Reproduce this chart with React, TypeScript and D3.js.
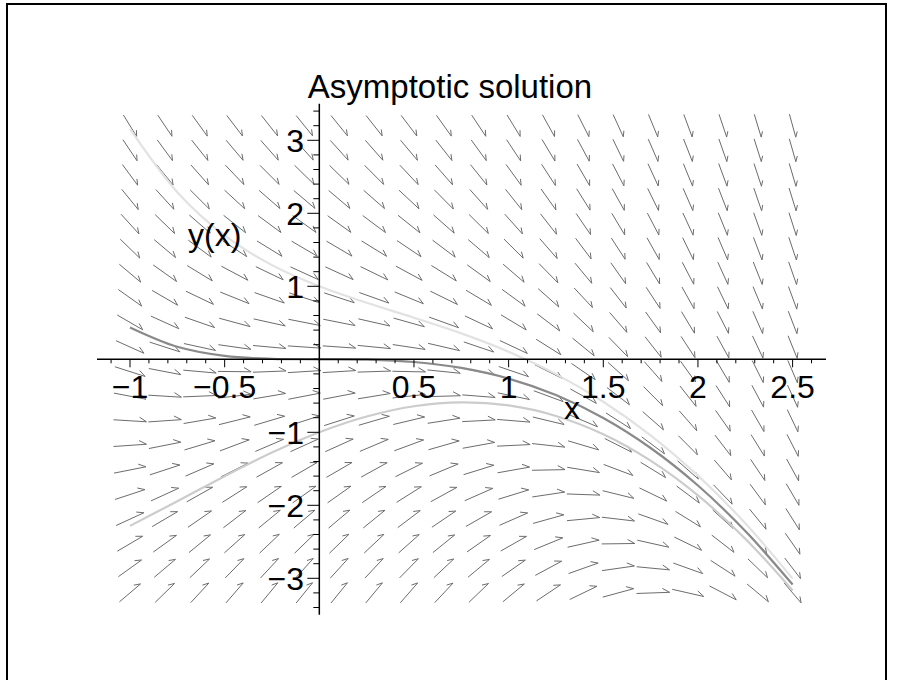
import React from "react";
import * as d3 from "d3";

// Direction field and solution curves of  y' = -y - x^2

const WIDTH = 905;
const HEIGHT = 680;

// axis ticks
const xMajorTicks = [-1, -0.5, 0.5, 1, 1.5, 2, 2.5];
const xTickLabels = ["\u22121", "\u22120.5", "0.5", "1", "1.5", "2", "2.5"];
const yMajorTicks = [-3, -2, -1, 1, 2, 3];
const yTickLabels = ["\u22123", "\u22122", "\u22121", "1", "2", "3"];

// solution curves sampled along x
const curveX = [-1, -0.75, -0.5, -0.25, 0, 0.25, 0.5, 0.75, 1, 1.25, 1.5, 1.75, 2, 2.25, 2.5];
const upperCurve = [3.155, 2.289, 1.696, 1.29, 1.0, 0.774, 0.57, 0.355, 0.104, -0.203, -0.581, -1.041, -1.594, -2.246, -3.004];
const middleCurve = [0.437, 0.172, 0.047, 0.006, 0, -0.005, -0.037, -0.118, -0.264, -0.49, -0.804, -1.215, -1.729, -2.352, -3.086];
const lowerCurve = [-2.282, -1.945, -1.601, -1.278, -1.0, -0.784, -0.643, -0.59, -0.632, -0.776, -1.027, -1.389, -1.865, -2.457, -3.168];

// the differential equation's right-hand side
const slope = (x: number, y: number) => -y - x * x;

// arrow grid
const fieldXRange = [-1, 2.5];
const fieldYRange = [-3.2, 3.2];
const fieldCols = 20;
const fieldRows = 20;

export default function App() {
  const x = d3.scaleLinear().domain([-1, 2.5]).range([130, 792.6]);
  const y = d3.scaleLinear().domain([-3.5, 3.5]).range([614.8, 103.8]);

  const xView = [x.invert(97), x.invert(826)];
  const yView = [-3.5, 3.5];

  const dxData = (fieldXRange[1] - fieldXRange[0]) / (fieldCols - 1);
  const dyData = (fieldYRange[1] - fieldYRange[0]) / (fieldRows - 1);
  const cellW = x(dxData) - x(0);
  const cellH = y(0) - y(dyData);

  const arrows: string[] = [];
  for (let i = 0; i < fieldCols; i++) {
    for (let j = 0; j < fieldRows; j++) {
      const xv = fieldXRange[0] + i * dxData;
      const yv = fieldYRange[0] + j * dyData;
      const u = 1 / dxData;
      const v = slope(xv, yv) / dyData;
      const n = Math.hypot(u, v);
      const L = 0.95;
      const vx = (u / n) * L * cellW;
      const vy = -(v / n) * L * cellH;
      const cx = x(xv);
      const cy = y(yv);
      const x0 = cx - vx / 2, y0 = cy - vy / 2;
      const x1 = cx + vx / 2, y1 = cy + vy / 2;
      const len = Math.hypot(vx, vy);
      const back = Math.atan2(-vy, -vx) + (30 * Math.PI) / 180;
      const bl = len * 0.25;
      const bx = x1 + Math.cos(back) * bl;
      const by = y1 + Math.sin(back) * bl;
      arrows.push(`M${x0},${y0}L${x1},${y1}L${bx},${by}`);
    }
  }

  const line = d3
    .line<number>()
    .x((_, i) => x(curveX[i]))
    .y((d) => y(d))
    .curve(d3.curveCatmullRom.alpha(0.5));

  const xMinor = d3.range(-11, 27).map((k) => k / 10).filter((v) => v >= xView[0] && v <= xView[1]);
  const yMinor = d3.range(-17, 18).map((k) => k / 5);

  const font = "'Liberation Sans', Arial, Helvetica, sans-serif";

  return (
    <svg
      width={WIDTH}
      height={HEIGHT}
      style={{ position: "absolute", left: 0, top: 0, background: "#fff" }}
    >
      <rect x={7} y={4} width={879} height={690} fill="none" stroke="#000" strokeWidth={2} />

      <g fill="none" stroke="#6c6c6c" strokeWidth={1}>
        {arrows.map((d, k) => (
          <path key={k} d={d} />
        ))}
      </g>

      <g fill="none" strokeWidth={2.2}>
        <path d={line(upperCurve) || ""} stroke="#e2e2e2" />
        <path d={line(lowerCurve) || ""} stroke="#cccccc" />
        <path d={line(middleCurve) || ""} stroke="#8a8a8a" />
      </g>

      {/* axes */}
      <g stroke="#000" strokeWidth={1.5} fill="none">
        <line x1={x(xView[0])} x2={x(xView[1])} y1={y(0)} y2={y(0)} />
        <line x1={x(0)} x2={x(0)} y1={y(yView[1])} y2={y(yView[0])} />
        {xMinor.map((v) => {
          const major = Math.abs(v * 2 - Math.round(v * 2)) < 1e-6 && Math.abs(v) > 1e-6;
          return <line key={`xt${v}`} x1={x(v)} x2={x(v)} y1={y(0)} y2={y(0) + (major ? 8 : 4)} strokeWidth={1} />;
        })}
        {yMinor.map((v) => {
          const major = Math.abs(v - Math.round(v)) < 1e-6 && Math.abs(v) > 1e-6;
          return <line key={`yt${v}`} x1={x(0) - (major ? 12 : 6)} x2={x(0)} y1={y(v)} y2={y(v)} strokeWidth={1} />;
        })}
      </g>

      <g fontFamily={font} fontSize={32} fill="#000">
        {xMajorTicks.map((v, i) => (
          <text key={`xl${v}`} x={x(v)} y={398} textAnchor="middle">
            {xTickLabels[i]}
          </text>
        ))}
        {yMajorTicks.map((v, i) => (
          <text key={`yl${v}`} x={304} y={y(v) + 12} textAnchor="end">
            {yTickLabels[i]}
          </text>
        ))}
        <text x={188} y={246}>y(x)</text>
        <text x={564} y={419}>x</text>
        <text x={450} y={98} textAnchor="middle" fontSize={33}>
          Asymptotic solution
        </text>
      </g>
    </svg>
  );
}
